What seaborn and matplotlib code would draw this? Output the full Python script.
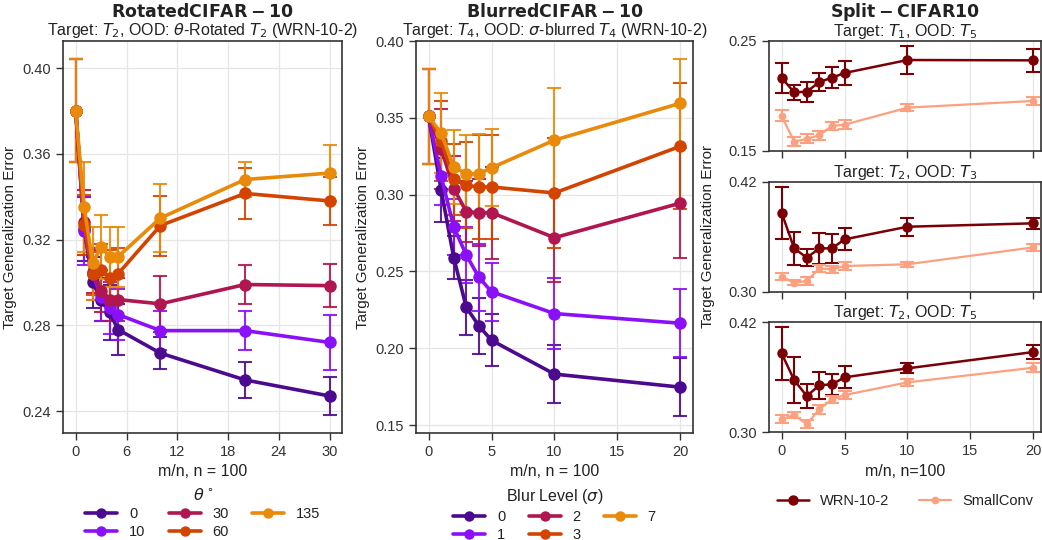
import numpy as np
import pandas as pd
import matplotlib
matplotlib.use('Agg')
import matplotlib.pyplot as plt
import seaborn as sns
from matplotlib.lines import Line2D

# ------------------------------------------------------------------
# Data
# ------------------------------------------------------------------
rot_x = [0, 1, 2, 3, 4, 5, 10, 20, 30]
rot_levels = ['0', '10', '30', '60', '135']
rot_mean = {
    '0':   [0.380, 0.325, 0.300, 0.292, 0.286, 0.278, 0.267, 0.2545, 0.247],
    '10':  [0.380, 0.324, 0.304, 0.293, 0.288, 0.285, 0.2775, 0.2775, 0.272],
    '30':  [0.380, 0.328, 0.305, 0.296, 0.292, 0.292, 0.290, 0.299, 0.2985],
    '60':  [0.380, 0.327, 0.304, 0.306, 0.302, 0.304, 0.3265, 0.3415, 0.338],
    '135': [0.380, 0.335, 0.309, 0.3165, 0.312, 0.312, 0.330, 0.348, 0.351],
}
rot_err = {
    '0':   [0.024, 0.015, 0.012, 0.010, 0.013, 0.012, 0.0075, 0.0085, 0.009],
    '10':  [0.024, 0.016, 0.012, 0.011, 0.012, 0.012, 0.009, 0.009, 0.013],
    '30':  [0.024, 0.015, 0.010, 0.010, 0.010, 0.010, 0.013, 0.009, 0.010],
    '60':  [0.024, 0.014, 0.010, 0.012, 0.013, 0.012, 0.014, 0.012, 0.011],
    '135': [0.024, 0.021, 0.017, 0.015, 0.014, 0.014, 0.016, 0.008, 0.013],
}

blur_x = [0, 1, 2, 3, 4, 5, 10, 20]
blur_levels = ['0', '1', '2', '3', '7']
blur_mean = {
    '0': [0.351, 0.303, 0.259, 0.2266, 0.2146, 0.2052, 0.1832, 0.1747],
    '1': [0.351, 0.312, 0.279, 0.2607, 0.2462, 0.2368, 0.2226, 0.2163],
    '2': [0.351, 0.330, 0.304, 0.289, 0.2883, 0.2883, 0.272, 0.2945],
    '3': [0.351, 0.335, 0.310, 0.306, 0.305, 0.305, 0.3011, 0.3315],
    '7': [0.351, 0.340, 0.318, 0.3136, 0.3136, 0.3175, 0.3355, 0.3595],
}
blur_err = {
    '0': [0.031, 0.021, 0.014, 0.018, 0.018, 0.017, 0.019, 0.019],
    '1': [0.031, 0.019, 0.018, 0.018, 0.022, 0.019, 0.023, 0.022],
    '2': [0.031, 0.026, 0.021, 0.020, 0.022, 0.030, 0.029, 0.036],
    '3': [0.031, 0.026, 0.023, 0.028, 0.034, 0.034, 0.036, 0.041],
    '7': [0.031, 0.026, 0.024, 0.025, 0.026, 0.025, 0.034, 0.029],
}

split_x = [0, 1, 2, 3, 4, 5, 10, 20]
split_models = ['WRN-10-2', 'SmallConv']
split_titles = ['Target: $T_1$, OOD: $T_5$', 'Target: $T_2$, OOD: $T_3$',
                'Target: $T_2$, OOD: $T_5$']
split_ylims = [(0.15, 0.25), (0.30, 0.42), (0.30, 0.42)]
split_mean = [
    {'WRN-10-2':  [0.2166, 0.2033, 0.2039, 0.2127, 0.2166, 0.2209, 0.2327, 0.2324],
     'SmallConv': [0.182, 0.1585, 0.161, 0.1643, 0.1727, 0.1739, 0.1894, 0.1955]},
    {'WRN-10-2':  [0.3862, 0.3473, 0.3371, 0.3473, 0.3473, 0.3571, 0.3709, 0.3746],
     'SmallConv': [0.3164, 0.3098, 0.3117, 0.3255, 0.3244, 0.328, 0.3299, 0.3484]},
    {'WRN-10-2':  [0.3862, 0.357, 0.3396, 0.3513, 0.3524, 0.360, 0.3698, 0.3876],
     'SmallConv': [0.3145, 0.3189, 0.3091, 0.3251, 0.336, 0.3407, 0.3545, 0.3705]},
]
split_err = [
    {'WRN-10-2':  [0.0136, 0.0068, 0.009, 0.0086, 0.0095, 0.011, 0.0125, 0.0106],
     'SmallConv': [0.005, 0.004, 0.004, 0.004, 0.004, 0.004, 0.003, 0.004]},
    {'WRN-10-2':  [0.0285, 0.018, 0.009, 0.017, 0.016, 0.012, 0.010, 0.006],
     'SmallConv': [0.004, 0.003, 0.004, 0.004, 0.004, 0.004, 0.003, 0.004]},
    {'WRN-10-2':  [0.029, 0.0255, 0.0127, 0.015, 0.0116, 0.012, 0.0055, 0.0076],
     'SmallConv': [0.004, 0.003, 0.004, 0.005, 0.004, 0.004, 0.004, 0.005]},
]

level_colors = ['#4c0a8f', '#8a10f8', '#b0164f', '#d24400', '#e98a0a']
split_colors = {'WRN-10-2': '#7a0006', 'SmallConv': '#fca080'}

# ------------------------------------------------------------------
# Style
# ------------------------------------------------------------------
sns.set_theme(style='ticks')
plt.rcParams['font.family'] = ['Liberation Sans', 'DejaVu Sans']
plt.rcParams['axes.edgecolor'] = '#333333'
plt.rcParams['axes.linewidth'] = 1.2
plt.rcParams['xtick.color'] = '#333333'
plt.rcParams['ytick.color'] = '#333333'
plt.rcParams['text.color'] = '#222222'
plt.rcParams['axes.labelcolor'] = '#222222'

fig = plt.figure(figsize=(10.42, 5.4), dpi=100)


def long_df(xs, mean_dict, keys):
    rows = []
    for k in keys:
        for x, v in zip(xs, mean_dict[k]):
            rows.append({'x': x, 'y': v, 'series': k})
    return pd.DataFrame(rows)


def draw_panel(ax, xs, levels, mean, err, lw=2.6, ms=9):
    df = long_df(xs, mean, levels)
    pal = dict(zip(levels, level_colors))
    for k in levels:
        ax.errorbar(xs, mean[k], yerr=err[k], fmt='none', ecolor=pal[k],
                    elinewidth=1.5, capsize=5, capthick=1.5, alpha=0.9, zorder=2)
    sns.lineplot(data=df, x='x', y='y', hue='series', palette=pal, marker='o',
                 markersize=ms, markeredgewidth=0, linewidth=lw, errorbar=None,
                 legend=False, ax=ax, zorder=3)
    ax.grid(True, color='#e6e6e6', linewidth=0.9)
    ax.set_axisbelow(True)
    ax.tick_params(labelsize=10.5, length=5, width=1)
    ax.set_ylabel('Target Generalization Error', fontsize=11)
    ax.set_xlabel('m/n, n = 100', fontsize=11.5)
    handles = [Line2D([0], [0], color=c, marker='o', markersize=7.5, linewidth=2.6,
                      markeredgewidth=0) for c in level_colors]
    return handles


leg_kw = dict(ncol=3, frameon=False, loc='upper center', fontsize=10.5,
              title_fontsize=11.5, handlelength=2.2, columnspacing=1.6,
              labelspacing=0.25, handletextpad=0.8)

# ---------------- Left: RotatedCIFAR-10 ----------------
ax1 = fig.add_axes([0.0605, 0.198, 0.268, 0.726])
h = draw_panel(ax1, rot_x, rot_levels, rot_mean, rot_err)
ax1.set_xlim(-1.5, 31.5)
ax1.set_ylim(0.2297, 0.4126)
ax1.set_xticks([0, 6, 12, 18, 24, 30])
ax1.set_yticks([0.24, 0.28, 0.32, 0.36, 0.40])
ax1.set_yticklabels(['0.24', '0.28', '0.32', '0.36', '0.40'])
ax1.set_title(r'Target: $T_2$, OOD: $\theta$-Rotated $T_2$ (WRN-10-2)', fontsize=11.5, pad=4)
ax1.text(0.5, 1.061, r'$\mathbf{RotatedCIFAR-10}$', transform=ax1.transAxes,
         ha='center', va='baseline', fontsize=12.5)
ax1.legend(h, rot_levels, title=r'$\theta^\circ$', bbox_to_anchor=(0.5, -0.105), **leg_kw)

# ---------------- Middle: BlurredCIFAR-10 ----------------
ax2 = fig.add_axes([0.3992, 0.198, 0.2658, 0.726])
h = draw_panel(ax2, blur_x, blur_levels, blur_mean, blur_err)
ax2.set_xlim(-1, 21)
ax2.set_ylim(0.1448, 0.40)
ax2.set_xticks([0, 5, 10, 15, 20])
ax2.set_yticks([0.15, 0.20, 0.25, 0.30, 0.35, 0.40])
ax2.set_yticklabels(['0.15', '0.20', '0.25', '0.30', '0.35', '0.40'])
ax2.set_title(r'Target: $T_4$, OOD: $\sigma$-blurred $T_4$ (WRN-10-2)', fontsize=11.5, pad=4)
ax2.text(0.5, 1.061, r'$\mathbf{BlurredCIFAR-10}$', transform=ax2.transAxes,
         ha='center', va='baseline', fontsize=12.5)
ax2.legend(h, blur_levels, title=r'Blur Level ($\sigma$)', bbox_to_anchor=(0.5, -0.105), **leg_kw)

# ---------------- Right: Split-CIFAR10 ----------------
bottoms = [0.7204, 0.4598, 0.1994]
right_axes = []
for i in range(3):
    ax = fig.add_axes([0.738, bottoms[i], 0.261, 0.2037])
    right_axes.append(ax)
    for mdl in split_models:
        ax.errorbar(split_x, split_mean[i][mdl], yerr=split_err[i][mdl], fmt='none',
                    ecolor=split_colors[mdl], elinewidth=1.5, capsize=5, capthick=1.5,
                    zorder=2)
    df = pd.concat([pd.DataFrame({'x': split_x, 'y': split_mean[i][m], 'model': m})
                    for m in split_models], ignore_index=True)
    sns.lineplot(data=df[df.model == 'SmallConv'], x='x', y='y', color=split_colors['SmallConv'],
                 marker='o', markersize=5.5, markeredgewidth=0, linewidth=1.6,
                 errorbar=None, ax=ax, zorder=3)
    sns.lineplot(data=df[df.model == 'WRN-10-2'], x='x', y='y', color=split_colors['WRN-10-2'],
                 marker='o', markersize=7.5, markeredgewidth=0, linewidth=1.8,
                 errorbar=None, ax=ax, zorder=4)
    ax.set_xlim(-1, 20.6)
    ax.set_ylim(*split_ylims[i])
    lo, hi = split_ylims[i]
    ax.set_yticks([lo, hi])
    ax.set_yticklabels([f'{lo:.2f}', f'{hi:.2f}'])
    ax.set_xticks([0, 5, 10, 15, 20])
    ax.grid(True, axis='x', color='#e6e6e6', linewidth=0.9)
    ax.set_axisbelow(True)
    ax.tick_params(labelsize=10.5, length=5, width=1)
    ax.set_title(split_titles[i], fontsize=11.5, pad=3)
    ax.set_ylabel('')
    if i < 2:
        ax.set_xlabel('')
        ax.set_xticklabels([])
    else:
        ax.set_xlabel('m/n, n=100', fontsize=11.5)

right_axes[0].text(0.5, 1.218, r'$\mathbf{Split-CIFAR10}$', transform=right_axes[0].transAxes,
                   ha='center', va='baseline', fontsize=12.5)
right_axes[1].set_ylabel('Target Generalization Error', fontsize=11, labelpad=10)
split_handles = [
    Line2D([0], [0], color=split_colors['WRN-10-2'], marker='o', markersize=7.5,
           linewidth=1.8, markeredgewidth=0),
    Line2D([0], [0], color=split_colors['SmallConv'], marker='o', markersize=5.5,
           linewidth=1.6, markeredgewidth=0),
]
right_axes[2].legend(split_handles, split_models, ncol=2, frameon=False,
                     loc='upper center', bbox_to_anchor=(0.5, -0.44), fontsize=10.5,
                     handlelength=2.2, columnspacing=2.0, handletextpad=0.8)

plt.savefig('out.png', dpi=100)
plt.close()
